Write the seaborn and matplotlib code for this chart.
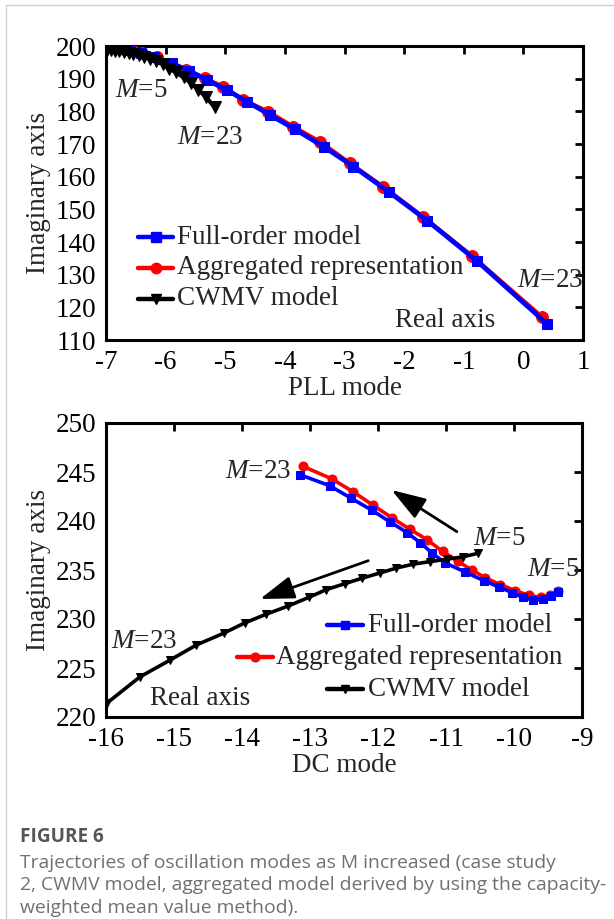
import numpy as np
import pandas as pd
import seaborn as sns
import matplotlib
matplotlib.use("Agg")
import matplotlib.pyplot as plt
from matplotlib.lines import Line2D

# ---------------- data ----------------
# PLL mode (top panel), M = 5 ... 23
pll_full_x = [-6.98, -6.82, -6.62, -6.42, -6.20, -5.90, -5.60, -5.31, -4.97, -4.64, -4.25, -3.83, -3.35, -2.85, -2.26, -1.61, -0.78, 0.40]
pll_full_y = [199.7, 199.4, 198.8, 197.8, 196.5, 194.7, 192.4, 189.6, 186.5, 183.0, 178.9, 174.5, 169.2, 163.1, 155.4, 146.5, 134.2, 114.9]
pll_agg_x = [-6.96, -6.85, -6.70, -6.55, -6.40, -6.15, -5.65, -5.34, -5.03, -4.70, -4.28, -3.86, -3.41, -2.91, -2.35, -1.68, -0.86, 0.31]
pll_agg_y = [199.8, 199.6, 199.2, 198.6, 197.8, 196.7, 192.7, 190.1, 187.5, 183.5, 179.9, 175.3, 170.7, 164.1, 156.9, 147.7, 135.7, 117.1]
pll_cwmv_x = [-6.98, -6.92, -6.85, -6.78, -6.70, -6.62, -6.54, -6.45, -6.36, -6.26, -6.16, -6.05, -5.94, -5.82, -5.70, -5.58, -5.45, -5.32, -5.18]
pll_cwmv_y = [198.8, 198.7, 198.6, 198.4, 198.2, 197.9, 197.6, 197.2, 196.7, 196.1, 195.3, 194.4, 193.1, 191.9, 190.4, 188.8, 186.6, 184.3, 181.3]

# DC mode (bottom panel), M = 5 ... 23
dc_full_x = [-9.36, -9.45, -9.58, -9.72, -9.87, -10.03, -10.22, -10.44, -10.72, -11.02, -11.20, -11.38, -11.57, -11.82, -12.09, -12.39, -12.71, -13.14]
dc_full_y = [232.8, 232.3, 232.0, 231.95, 232.2, 232.7, 233.25, 233.9, 234.8, 235.75, 236.7, 237.8, 238.8, 239.9, 241.1, 242.3, 243.6, 244.7]
dc_agg_x = [-9.36, -9.47, -9.60, -9.78, -9.98, -10.20, -10.42, -10.62, -10.83, -11.05, -11.28, -11.53, -11.79, -12.07, -12.37, -12.68, -13.11]
dc_agg_y = [232.9, 232.4, 232.2, 232.4, 232.9, 233.5, 234.2, 235.0, 235.9, 236.9, 238.1, 239.15, 240.3, 241.6, 243.0, 244.3, 245.6]
dc_cwmv_x = [-10.53, -10.75, -10.99, -11.24, -11.48, -11.73, -11.97, -12.24, -12.49, -12.76, -13.02, -13.33, -13.64, -13.96, -14.27, -14.67, -15.06, -15.50, -15.99]
dc_cwmv_y = [236.7, 236.35, 236.1, 235.85, 235.6, 235.2, 234.7, 234.15, 233.6, 233.0, 232.2, 231.3, 230.5, 229.6, 228.55, 227.35, 225.8, 224.1, 221.4]

series_names = ["Full-order model", "Aggregated representation", "CWMV model"]
pll_xticks = [-7, -6, -5, -4, -3, -2, -1, 0, 1]
pll_yticks = [110, 120, 130, 140, 150, 160, 170, 180, 190, 200]
dc_xticks = [-16, -15, -14, -13, -12, -11, -10, -9]
dc_yticks = [220, 225, 230, 235, 240, 245, 250]

caption_title = "FIGURE 6"
caption_lines = [
    "Trajectories of oscillation modes as M increased (case study",
    "2, CWMV model, aggregated model derived by using the capacity-",
    "weighted mean value method).",
]

# ---------------- style ----------------
sns.set_theme(style="white")
plt.rcParams["font.family"] = ["Liberation Serif", "DejaVu Serif"]
plt.rcParams["mathtext.fontset"] = "custom"
plt.rcParams["mathtext.rm"] = "Liberation Serif"
plt.rcParams["mathtext.it"] = "Liberation Serif:italic"
plt.rcParams["axes.unicode_minus"] = False

FS = 19.5
BLUE, RED, BLACK = "#0000FF", "#FF0000", "#000000"

W, H = 614, 919
fig = plt.figure(figsize=(W / 100, H / 100), dpi=100)
fig.patch.set_facecolor("white")


def px_axes(left, right, top, bottom):
    return fig.add_axes([left / W, 1 - bottom / H, (right - left) / W, (bottom - top) / H])


ax1 = px_axes(106, 583, 46, 340)
ax2 = px_axes(106, 582, 423, 717)


def style_axes(ax, xt, yt, xlim, ylim, xlabel):
    ax.set_xlim(*xlim)
    ax.set_ylim(*ylim)
    ax.set_xticks(xt)
    ax.set_yticks(yt)
    ax.set_xticklabels([str(v) for v in xt])
    ax.set_yticklabels([str(v) for v in yt])
    ax.tick_params(direction="in", length=6, width=2, top=True, right=True,
                   labelsize=FS, colors="black", pad=7)
    for s in ax.spines.values():
        s.set_visible(True)
        s.set_linewidth(2.2)
        s.set_color("black")
    ax.set_xlabel(xlabel, fontsize=FS, labelpad=1)
    ax.set_ylabel("Imaginary axis", fontsize=FS, labelpad=3)
    ax.grid(False)
    ax.set_facecolor("white")


# ---------------- top panel ----------------
d = pd.DataFrame({"x": pll_agg_x, "y": pll_agg_y})
sns.lineplot(data=d, x="x", y="y", sort=False, ax=ax1, color=RED, linewidth=3.0,
             marker="o", markersize=8.5, markeredgecolor=RED, zorder=3)
d = pd.DataFrame({"x": pll_full_x, "y": pll_full_y})
sns.lineplot(data=d, x="x", y="y", sort=False, ax=ax1, color=BLUE, linewidth=3.4,
             marker="s", markersize=7.8, markeredgecolor=BLUE, zorder=4)
d = pd.DataFrame({"x": pll_cwmv_x, "y": pll_cwmv_y})
sns.lineplot(data=d, x="x", y="y", sort=False, ax=ax1, color=BLACK, linewidth=3.0,
             marker="v", markersize=8.5, markeredgecolor=BLACK, zorder=5)
style_axes(ax1, pll_xticks, pll_yticks, (-7, 1), (110, 200), "PLL mode")

ax1.text(-6.85, 186.5, "$M$=5", fontsize=FS, ha="left", va="center")
ax1.text(-5.81, 172.1, "$M$=23", fontsize=FS, ha="left", va="center")
ax1.text(-0.10, 128.1, "$M$=23", fontsize=FS, ha="left", va="center")
ax1.text(-2.15, 116.1, "Real axis", fontsize=FS, ha="left", va="center")

# manual legend (top)
leg1 = [(0.0671, 0.1405, 0.1488, 0.3503),
        (0.0671, 0.1405, 0.1488, 0.2449),
        (0.0671, 0.1405, 0.1488, 0.1395)]
styles = [(BLUE, "s"), (RED, "o"), (BLACK, "v")]
for (x0, x1, xt, y), (c, m), name in zip(leg1, styles, series_names):
    ax1.plot([x0, x1], [y, y], color=c, lw=3.2, transform=ax1.transAxes, clip_on=False, zorder=6)
    ax1.plot([(x0 + x1) / 2], [y], color=c, marker=m, ms=7.5, transform=ax1.transAxes, clip_on=False, zorder=6)
    ax1.text(xt, y, name, fontsize=FS, ha="left", va="center", transform=ax1.transAxes)

# ---------------- bottom panel ----------------
d = pd.DataFrame({"x": dc_agg_x, "y": dc_agg_y})
sns.lineplot(data=d, x="x", y="y", sort=False, ax=ax2, color=RED, linewidth=2.6,
             marker="o", markersize=6.5, markeredgecolor=RED, zorder=3)
d = pd.DataFrame({"x": dc_full_x, "y": dc_full_y})
sns.lineplot(data=d, x="x", y="y", sort=False, ax=ax2, color=BLUE, linewidth=2.6,
             marker="s", markersize=5.8, markeredgecolor=BLUE, zorder=4)
d = pd.DataFrame({"x": dc_cwmv_x, "y": dc_cwmv_y})
sns.lineplot(data=d, x="x", y="y", sort=False, ax=ax2, color=BLACK, linewidth=2.6,
             marker="v", markersize=6.3, markeredgecolor=BLACK, zorder=5)
style_axes(ax2, dc_xticks, dc_yticks, (-16, -9), (220, 250), "DC mode")

ax2.text(-14.25, 245.03, "$M$=23", fontsize=FS, ha="left", va="center")
ax2.text(-10.60, 238.23, "$M$=5", fontsize=FS, ha="left", va="center")
ax2.text(-9.81, 235.0, "$M$=5", fontsize=FS, ha="left", va="center")
ax2.text(-15.92, 227.68, "$M$=23", fontsize=FS, ha="left", va="center")
ax2.text(-15.35, 221.9, "Real axis", fontsize=FS, ha="left", va="center")

arrow_kw = dict(arrowstyle="-|>,head_length=2.1,head_width=0.7", lw=2.0, color="black",
                mutation_scale=10, shrinkA=0, shrinkB=0)
ax2.annotate("", xy=(-11.80, 243.16), xytext=(-10.84, 238.91), arrowprops=arrow_kw)
ax2.annotate("", xy=(-13.735, 232.04), xytext=(-12.143, 235.95), arrowprops=arrow_kw)

leg2 = [(0.4636, 0.5406, 0.5504, 0.3129),
        (0.2746, 0.3515, 0.3571, 0.2031),
        (0.4636, 0.5406, 0.5504, 0.0942)]
for (x0, x1, xt, y), (c, m), name in zip(leg2, styles, series_names):
    ax2.plot([x0, x1], [y, y], color=c, lw=3.2, transform=ax2.transAxes, clip_on=False, zorder=6)
    ax2.plot([(x0 + x1) / 2], [y], color=c, marker=m, ms=6.3, transform=ax2.transAxes, clip_on=False, zorder=6)
    ax2.text(xt, y, name, fontsize=FS, ha="left", va="center", transform=ax2.transAxes)

# ---------------- caption & frame ----------------
fig.add_artist(Line2D([6 / W, 6 / W], [0, 1 - 5 / H], color="#d0d0d0", lw=1.0))
fig.add_artist(Line2D([6 / W, 1], [1 - 5 / H, 1 - 5 / H], color="#d0d0d0", lw=1.0))

cap_font = ["Open Sans", "DejaVu Sans"]
fig.text(20 / W, 1 - 837 / H, caption_title, fontsize=13.6, fontweight="bold",
         color="#555555", family=cap_font, ha="left", va="center")
for i, line in enumerate(caption_lines):
    fig.text(20 / W, 1 - (863 + 22.5 * i) / H, line, fontsize=13.9, color="#707070",
             family=cap_font, ha="left", va="center")

fig.savefig("out.png", dpi=100, facecolor="white")
